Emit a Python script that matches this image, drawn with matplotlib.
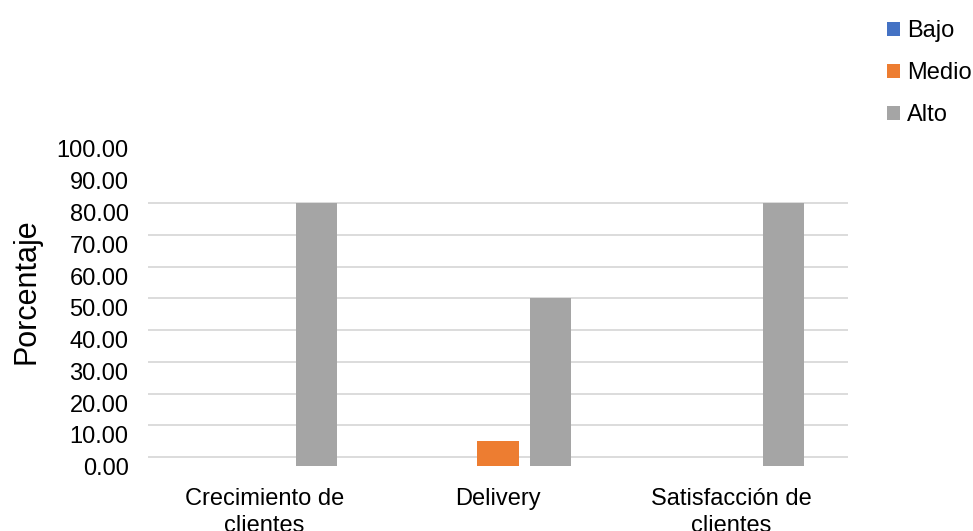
import numpy as np
import matplotlib
matplotlib.use("Agg")
import matplotlib.pyplot as plt
import matplotlib.transforms as mtransforms
from matplotlib.patches import Patch

plt.rcParams['font.family'] = ['Liberation Sans', 'DejaVu Sans']

categorias = ["Crecimiento de\nclientes", "Delivery", "Satisfacción de\nclientes"]
series = ["Bajo", "Medio", "Alto"]
bajo = [0.0, 0.0, 0.0]
medio = [0.0, 5.0, 0.0]
alto = [80.0, 50.0, 80.0]
colores = ["#4472C4", "#ED7D31", "#A5A5A5"]
yticks = [0, 10, 20, 30, 40, 50, 60, 70, 80, 90, 100]
grid_vals = [0, 10, 20, 30, 40, 50, 60, 70, 80]

fig = plt.figure(figsize=(9.73, 5.31), dpi=100)
ax = fig.add_axes([148 / 973, 65 / 531, 700 / 973, 326.5 / 531])

depth = 2.8  # "floor" of the pseudo-3D excel chart
x = np.arange(len(categorias))
offsets = [-0.223, 0.0, 0.223]
ancho = 0.176

for g in grid_vals:
    ax.axhline(g, color="#D9D9D9", lw=1.3, zorder=1)

for vals, off, col in zip([bajo, medio, alto], offsets, colores):
    v = np.array(vals)
    h = np.where(v > 0, v + depth, 0)
    ax.bar(x + off, h, width=ancho, bottom=-depth, color=col, zorder=2)

ax.set_xlim(-0.5, 2.5)
ax.set_ylim(-depth, 100)
ax.set_yticks(yticks)
ax.set_yticklabels([f"{t:.2f}" for t in yticks])
ax.set_xticks(x)
ax.set_xticklabels(categorias, linespacing=1.32)
ax.tick_params(axis="y", length=0, pad=14, labelsize=17)
ax.tick_params(axis="x", length=0, pad=15.5, labelsize=17)
for s in ax.spines.values():
    s.set_visible(False)

shift = mtransforms.ScaledTranslation(0, -9.5 / 100, fig.dpi_scale_trans)
for lbl in ax.get_yticklabels():
    lbl.set_transform(lbl.get_transform() + shift)

fig.text(27 / 973, 1 - 291 / 531, "Porcentaje", rotation=90, ha="center",
         va="center", fontsize=22)

handles = [Patch(facecolor=c, label=s) for c, s in zip(colores, series)]
fig.legend(handles=handles, loc="upper left", bbox_to_anchor=(887 / 973, 1 - 20 / 531),
           frameon=False, fontsize=17, handlelength=0.55, handleheight=0.55,
           handletextpad=0.3, labelspacing=0.85, borderpad=0, borderaxespad=0)

fig.savefig("out.png", dpi=100)
